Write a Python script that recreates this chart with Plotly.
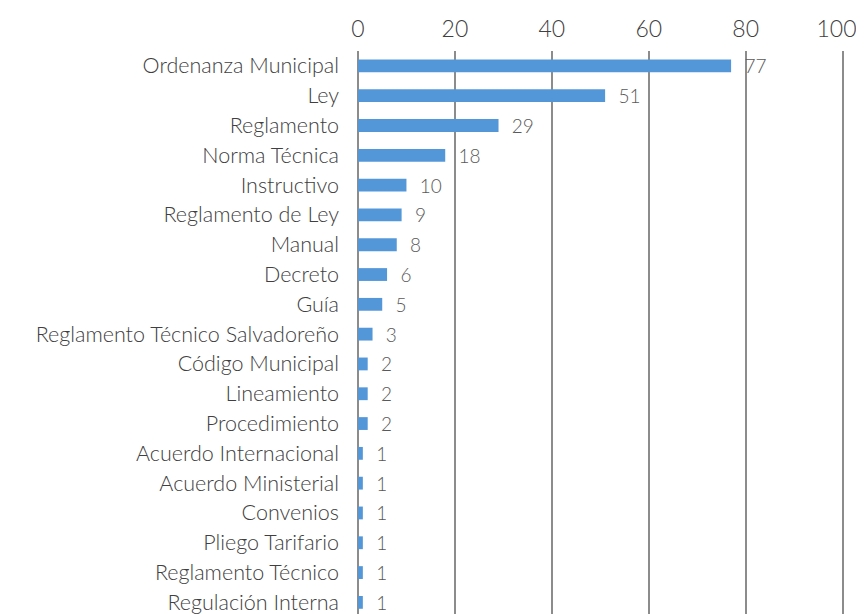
import plotly.graph_objects as go

categories = ['Ordenanza Municipal', 'Ley', 'Reglamento', 'Norma Técnica', 'Instructivo',
              'Reglamento de Ley', 'Manual', 'Decreto', 'Guía', 'Reglamento Técnico Salvadoreño',
              'Código Municipal', 'Lineamiento', 'Procedimiento', 'Acuerdo Internacional',
              'Acuerdo Ministerial', 'Convenios', 'Pliego Tarifario', 'Reglamento Técnico',
              'Regulación Interna']
counts = [77, 51, 29, 18, 10, 9, 8, 6, 5, 3, 2, 2, 2, 1, 1, 1, 1, 1, 1]
x_ticks = [0, 20, 40, 60, 80, 100]

font_family = 'Lato'
tick_font = dict(family=font_family, size=23, color='#404040', weight=300)

fig = go.Figure()
fig.add_trace(go.Bar(
    y=categories, x=counts, orientation='h', width=0.43,
    marker=dict(color='#5497d9', line=dict(width=0)),
    text=['  ' + str(c) for c in counts], textposition='outside', cliponaxis=False,
    constraintext='none',
    textfont=dict(family=font_family, size=19, color='#595959', weight=300),
))
# empty trace on a second axis, only there to carry the last tick label (shifted so it is not clipped)
fig.add_trace(go.Scatter(x=[None], y=[None], xaxis='x2', showlegend=False, hoverinfo='skip'))

# page has an 8px body margin, so the figure is placed at (8, 8)
fig.update_layout(
    width=856, height=606,
    margin=dict(l=350, r=20, t=43, b=0, autoexpand=False),
    plot_bgcolor='white', paper_bgcolor='white',
    showlegend=False,
    font=dict(family=font_family, weight=300),
    xaxis=dict(side='top', range=[0, 100.3], tickvals=x_ticks,
               ticktext=[str(v) for v in x_ticks[:-1]] + [''],
               showgrid=True, gridcolor='#8c8c8c', gridwidth=1.5,
               zeroline=True, zerolinecolor='#8c8c8c', zerolinewidth=1.5, showline=False,
               automargin=False, tickfont=tick_font, ticklabelstandoff=8),
    xaxis2=dict(overlaying='x', side='top', range=[0, 100.3], tickvals=x_ticks[-1:],
                showgrid=False, zeroline=False, showline=False, automargin=False,
                ticklabelshift=-6, ticklabelstandoff=8, tickfont=tick_font),
    yaxis=dict(categoryorder='array', categoryarray=categories, range=[18.39, -0.5],
               automargin=False, showgrid=False, ticks='', ticklabelstandoff=18,
               tickfont=dict(family=font_family, size=21.5, color='#404040', weight=300)),
)

fig.write_html("out.html")
